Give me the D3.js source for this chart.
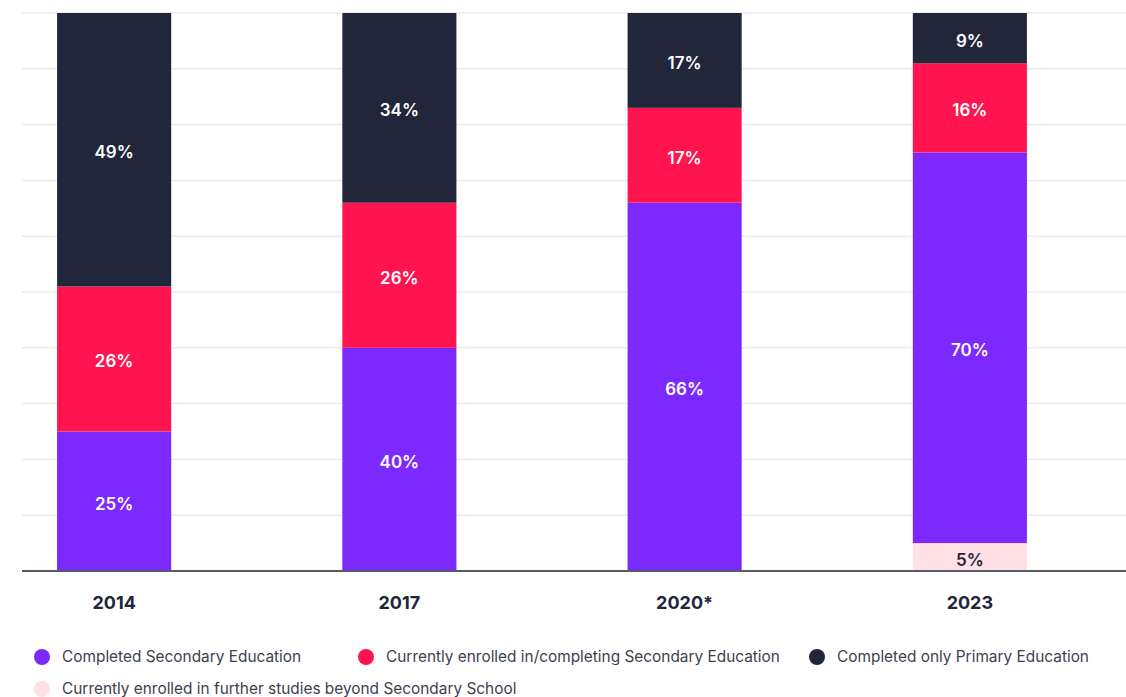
<!DOCTYPE html>
<html>
<head>
<script src="https://d3js.org/d3.v7.min.js"></script>
<style>
  body { margin: 0; background: #fff; }
  text { font-family: Inter, "Noto Sans", sans-serif; }
  .bar-label { font-size: 17px; font-weight: 600; }
  .year { font-size: 18px; font-weight: 700; fill: #22263b; }
  .legend text { font-size: 15.4px; fill: #3d4150; }
</style>
</head>
<body>
<svg id="main" width="1126" height="697"></svg>
<script>
  var years = ["2014", "2017", "2020*", "2023"];
  var further = [0, 0, 0, 5];
  var secondary = [25, 40, 66, 70];
  var enrolled = [26, 26, 17, 16];
  var primary = [49, 34, 17, 9];
  var yTicks = [0, 10, 20, 30, 40, 50, 60, 70, 80, 90, 100];

  var seriesNames = [
    "Currently enrolled in further studies beyond Secondary School",
    "Completed Secondary Education",
    "Currently enrolled in/completing Secondary Education",
    "Completed only Primary Education"
  ];
  var colors = ["#ffe0e4", "#7b29ff", "#ff1450", "#22263b"];
  var labelColors = ["#22263b", "#fff", "#fff", "#fff"];

  var svg = d3.select("#main");

  var table = years.map(function(y, i) {
    return { year: y, further: further[i], secondary: secondary[i], enrolled: enrolled[i], primary: primary[i] };
  });
  var keys = ["further", "secondary", "enrolled", "primary"];
  var stacked = d3.stack().keys(keys)(table);

  var x = d3.scaleBand().domain(years).range([22, 1062]).paddingInner(0.6).paddingOuter(0.123);
  var y = d3.scaleLinear().domain([0, 100]).range([571, 13]);

  // gridlines
  svg.append("g").selectAll("line").data(yTicks.slice(1)).enter().append("line")
    .attr("x1", 22).attr("x2", 1126)
    .attr("y1", function(d) { return y(d); })
    .attr("y2", function(d) { return y(d); })
    .attr("stroke", "#ebebeb").attr("stroke-width", 1.5);

  // bars
  var layers = svg.append("g").selectAll("g").data(stacked).enter().append("g")
    .attr("fill", function(d, i) { return colors[i]; });

  layers.selectAll("rect").data(function(d) { return d; }).enter().append("rect")
    .attr("x", function(d) { return x(d.data.year); })
    .attr("width", x.bandwidth())
    .attr("y", function(d) { return y(d[1]); })
    .attr("height", function(d) { return y(d[0]) - y(d[1]); });

  layers.each(function(layer, li) {
    d3.select(this).selectAll("text").data(layer.filter(function(d) { return d[1] - d[0] > 0; }))
      .enter().append("text")
      .attr("class", "bar-label")
      .attr("x", function(d) { return x(d.data.year) + x.bandwidth() / 2; })
      .attr("y", function(d) { return (y(d[0]) + y(d[1])) / 2; })
      .attr("dy", "0.5em")
      .attr("text-anchor", "middle")
      .attr("fill", labelColors[li])
      .text(function(d) { return (d[1] - d[0]) + "%"; });
  });

  // baseline
  svg.append("line").attr("x1", 22).attr("x2", 1126)
    .attr("y1", y(0)).attr("y2", y(0))
    .attr("stroke", "#55596a").attr("stroke-width", 2);

  // year labels
  svg.append("g").selectAll("text").data(years).enter().append("text")
    .attr("class", "year")
    .attr("x", function(d) { return x(d) + x.bandwidth() / 2; })
    .attr("y", 609)
    .attr("text-anchor", "middle")
    .text(function(d) { return d; });

  // legend
  var legendItems = [
    { i: 1, x: 42, y: 657 },
    { i: 2, x: 366, y: 657 },
    { i: 3, x: 817, y: 657 },
    { i: 0, x: 42, y: 689 }
  ];
  var legend = svg.append("g").attr("class", "legend").selectAll("g").data(legendItems).enter().append("g")
    .attr("transform", function(d) { return "translate(" + d.x + "," + d.y + ")"; });
  legend.append("circle").attr("r", 8).attr("fill", function(d) { return colors[d.i]; });
  legend.append("text").attr("x", 20).attr("dy", "0.35em").text(function(d) { return seriesNames[d.i]; });
</script>
</body>
</html>
